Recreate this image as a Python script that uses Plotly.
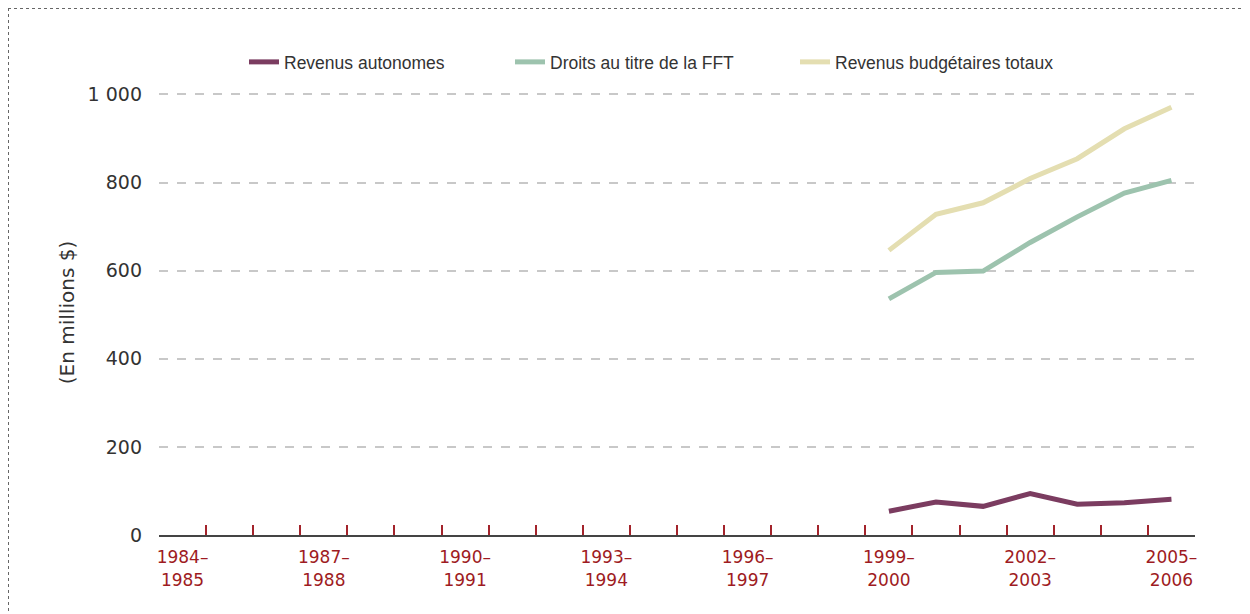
import plotly.graph_objects as go

categories = [f"{y}–{y+1}" for y in range(1984, 2006)]
data_years = ["1999–2000", "2000–2001", "2001–2002", "2002–2003",
              "2003–2004", "2004–2005", "2005–2006"]
revenus_autonomes = [54, 75, 65, 94, 70, 73, 81]
droits_fft = [536, 596, 599, 664, 722, 776, 805]
revenus_totaux = [646, 728, 754, 809, 854, 922, 971]

y_tickvals = [0, 200, 400, 600, 800, 1000]
y_ticktext = ["0", "200", "400", "600", "800", "1 000"]

x_ticktext = [c.replace("–", "–<br>") if i % 3 == 0 else "" for i, c in enumerate(categories)]

series = [
    ("Revenus autonomes", revenus_autonomes, "#7b3c60", "legend", 285),
    ("Droits au titre de la FFT", droits_fft, "#9dc3ae", "legend2", 551),
    ("Revenus budgétaires totaux", revenus_totaux, "#e4deb1", "legend3", 836),
]

# page offset (body margin) of 8px
OFF = 8
W, H = 1250, 614
L, R, T, B = 151, 63, 82, 87
pw, ph = W - L - R, H - T - B

def px(x):  # x in page pixels -> paper
    return (x - OFF - L) / pw

def py(y):  # y in page pixels -> paper
    return (H - B - (y - OFF)) / ph

fig = go.Figure()
# helper trace to register all categories on the axis
fig.add_trace(go.Scatter(x=categories, y=[None] * len(categories), mode="lines",
                         showlegend=False, hoverinfo="skip"))
legends = {}
for name, vals, col, leg, textx in series:
    fig.add_trace(go.Scatter(x=data_years, y=vals, name=name, mode="lines", legend=leg,
                             line=dict(color=col, width=5)))
    legends[leg] = dict(orientation="h", x=px(textx - 41), y=py(62), xanchor="left",
                        yanchor="middle", bgcolor="rgba(0,0,0,0)",
                        font=dict(family="Liberation Sans", size=17.5, color="#333333"))

fig.update_layout(
    width=W, height=H,
    margin=dict(l=L, r=R, t=T, b=B, autoexpand=False),
    paper_bgcolor="white", plot_bgcolor="white",
    font=dict(family="DejaVu Sans", color="#333333"),
    **legends,
    xaxis=dict(type="category", categoryorder="array", categoryarray=categories,
               range=[-0.5, len(categories) - 0.5], automargin=False,
               tickmode="array", tickvals=categories, ticktext=x_ticktext, tickangle=0,
               tickson="boundaries", ticks="inside", ticklen=10, tickwidth=1.5,
               tickcolor="#a3232b", showline=True, linecolor="#444444", linewidth=2,
               showgrid=False, zeroline=False, ticklabelstandoff=6,
               tickfont=dict(family="DejaVu Sans", size=17, color="#9e1b22")),
    yaxis=dict(range=[0, 1010], tickmode="array", tickvals=y_tickvals, ticktext=y_ticktext,
               automargin=False,
               showgrid=True, gridcolor="#c8c8c8", griddash="dash", gridwidth=1.5,
               zeroline=False, showline=False, ticks="", ticklabelstandoff=16,
               tickfont=dict(family="DejaVu Sans", size=19, color="#333333"),
               title=dict(text="(En millions $)", standoff=7,
                          font=dict(family="DejaVu Sans", size=20, color="#333333"))),
    shapes=[
        dict(type="line", xref="paper", yref="paper", x0=px(8), x1=px(1250), y0=py(8.5), y1=py(8.5),
             line=dict(color="#666666", width=1, dash="dot")),
        dict(type="line", xref="paper", yref="paper", x0=px(8.5), x1=px(8.5), y0=py(8), y1=py(614),
             line=dict(color="#666666", width=1, dash="dot")),
    ],
)

fig.write_html("out.html")
